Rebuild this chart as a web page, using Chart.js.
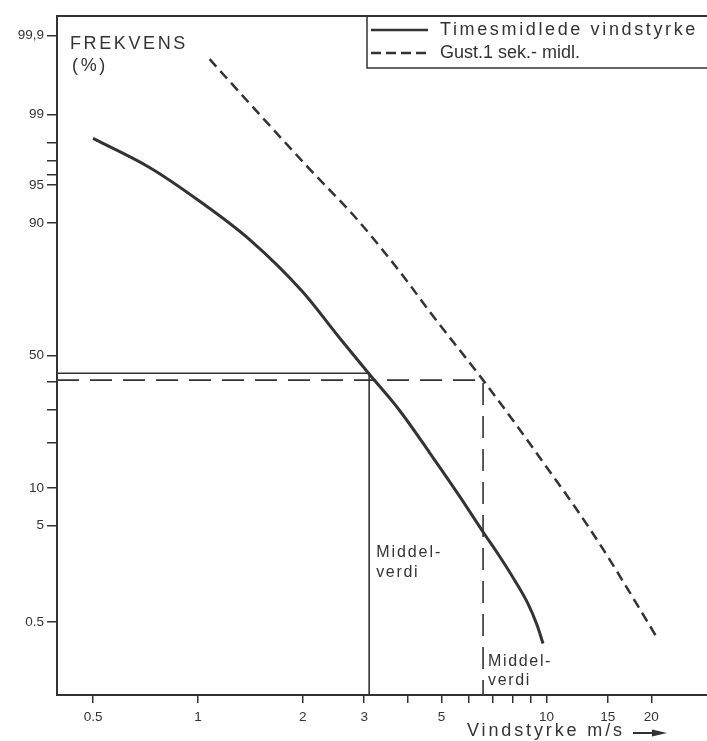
<!DOCTYPE html>
<html>
<head>
<meta charset="utf-8">
<script src="https://cdn.jsdelivr.net/npm/chart.js@4"></script>
<style>
  html, body { margin: 0; padding: 0; background: #fff; }
</style>
</head>
<body>
<canvas id="vindChart" width="707" height="741"></canvas>
<script>
// Vindstyrke (m/s) mot frekvens (%) på sannsynlighetspapir
const hourlySpeed = [0.5, 0.73, 1.0, 1.41, 2.0, 2.55, 3.1, 3.8, 4.63, 5.65, 6.58, 7.36, 8.13, 8.86, 9.4, 9.78];
const hourlyFreq  = [98.2, 96.5, 93.35, 86.8, 73.0, 56.7, 42.9, 29.6, 17.3, 8.6, 4.41, 2.58, 1.47, 0.82, 0.46, 0.27];

const gustSpeed = [1.08, 1.48, 2.06, 2.86, 3.88, 4.63, 6.58, 8.24, 10.04, 12.08, 14.54, 17.38, 20.77];
const gustFreq  = [99.79, 99.07, 96.6, 90.6, 77.9, 66.3, 40.6, 24.8, 13.9, 7.16, 3.07, 1.09, 0.32];

// middelverdier: [vindstyrke, frekvens]
const hourlyMean = [3.1, 43.2];
const gustMean = [6.58, 40.6];

const xTickValues = [0.5, 1, 2, 3, 4, 5, 6, 7, 8, 9, 10, 15, 20];
const xTickLabels = ['0.5', '1', '2', '3', '', '5', '', '', '', '', '10', '15', '20'];
const yTickFreq   = [0.5, 5, 10, 20, 30, 40, 50, 90, 95, 96, 97, 98, 99, 99.9];
const yTickLabels = ['0.5', '5', '10', '', '', '', '50', '90', '95', '', '', '', '99', '99,9'];

const ink = '#333333';
const X_MIN = 0.394, X_MAX = 28.9;
const Z_MIN = -3.28, Z_MAX = 3.28;

// invers normalfordeling (Acklam)
function probit(p) {
  const a = [-3.969683028665376e+01, 2.209460984245205e+02, -2.759285104469687e+02, 1.383577518672690e+02, -3.066479806614716e+01, 2.506628277459239e+00];
  const b = [-5.447609879822406e+01, 1.615858368580409e+02, -1.556989798598866e+02, 6.680131188771972e+01, -1.328068155288572e+01];
  const c = [-7.784894002430293e-03, -3.223964580411365e-01, -2.400758277161838e+00, -2.549732539343734e+00, 4.374664141464968e+00, 2.938163982698783e+00];
  const d = [7.784695709041462e-03, 3.224671290700398e-01, 2.445134137142996e+00, 3.754408661907416e+00];
  const pl = 0.02425;
  let q, r;
  if (p < pl) {
    q = Math.sqrt(-2 * Math.log(p));
    return (((((c[0]*q+c[1])*q+c[2])*q+c[3])*q+c[4])*q+c[5]) / ((((d[0]*q+d[1])*q+d[2])*q+d[3])*q+1);
  }
  if (p > 1 - pl) {
    q = Math.sqrt(-2 * Math.log(1 - p));
    return -(((((c[0]*q+c[1])*q+c[2])*q+c[3])*q+c[4])*q+c[5]) / ((((d[0]*q+d[1])*q+d[2])*q+d[3])*q+1);
  }
  q = p - 0.5; r = q * q;
  return (((((a[0]*r+a[1])*r+a[2])*r+a[3])*r+a[4])*r+a[5])*q / (((((b[0]*r+b[1])*r+b[2])*r+b[3])*r+b[4])*r+1);
}
const z = pct => probit(pct / 100);

const toPoints = (xs, ys) => xs.map((x, i) => ({ x: x, y: z(ys[i]) }));
const meanPath = m => [
  { x: X_MIN, y: z(m[1]) },
  { x: m[0], y: z(m[1]) },
  { x: m[0], y: Z_MIN }
];

const tickFont = { family: 'Liberation Sans', size: 13.5 };

// skriv tekst med sperring; width = ønsket bredde, eller null for vanlig
function spacedText(ctx, text, x, y, width) {
  if ('letterSpacing' in ctx) {
    ctx.letterSpacing = '0px';
    if (width) {
      const w = ctx.measureText(text).width;
      ctx.letterSpacing = ((width - w) / text.length) + 'px';
    }
  }
  ctx.fillText(text, x, y);
}

// tekst, ramme og forklaring
const annotations = {
  id: 'annotations',
  afterDraw(chart) {
    const ctx = chart.ctx;
    const area = chart.chartArea;
    const xs = chart.scales.x;
    ctx.save();
    ctx.strokeStyle = ink;
    ctx.fillStyle = ink;

    // toppramme
    ctx.lineWidth = 2;
    ctx.beginPath();
    ctx.moveTo(area.left, area.top);
    ctx.lineTo(area.right, area.top);
    ctx.stroke();

    ctx.textBaseline = 'middle';
    ctx.textAlign = 'left';
    ctx.font = '18px "Liberation Sans"';
    spacedText(ctx, 'FREKVENS', 70, 44, 118);
    spacedText(ctx, '(%)', 72, 66, 36);

    // forklaring
    ctx.lineWidth = 1.5;
    ctx.strokeRect(367, area.top, area.right - 367 + 2, 52);
    ctx.lineWidth = 2.5;
    ctx.beginPath();
    ctx.moveTo(371, 30); ctx.lineTo(428, 30);
    ctx.stroke();
    ctx.setLineDash([10, 5]);
    ctx.beginPath();
    ctx.moveTo(371, 53); ctx.lineTo(428, 53);
    ctx.stroke();
    ctx.setLineDash([]);
    ctx.font = '18px "Liberation Sans"';
    spacedText(ctx, 'Timesmidlede vindstyrke', 440, 30, 258);
    spacedText(ctx, 'Gust.1 sek.- midl.', 440, 53, null);

    // middelverdi-merker
    ctx.font = '16px "Liberation Sans"';
    const hx = xs.getPixelForValue(hourlyMean[0]) + 7;
    spacedText(ctx, 'Middel-', hx, 553, 66);
    spacedText(ctx, 'verdi', hx, 573, 43);
    const gx = xs.getPixelForValue(gustMean[0]) + 5;
    spacedText(ctx, 'Middel-', gx, 662, 64);
    spacedText(ctx, 'verdi', gx, 681, 43);

    // aksetittel med pil
    ctx.font = '18px "Liberation Sans"';
    spacedText(ctx, 'Vindstyrke m/s', 467, 731, 158);
    ctx.lineWidth = 2;
    ctx.beginPath();
    ctx.moveTo(633, 733); ctx.lineTo(658, 733);
    ctx.stroke();
    ctx.beginPath();
    ctx.moveTo(667, 733); ctx.lineTo(652, 729.5); ctx.lineTo(652, 736.5);
    ctx.closePath();
    ctx.fill();
    ctx.restore();
  }
};

const ctx = document.getElementById('vindChart').getContext('2d');
const vindChart = new Chart(ctx, {
  type: 'line',
  data: {
    datasets: [
      {
        label: 'Timesmidlede vindstyrke',
        data: toPoints(hourlySpeed, hourlyFreq),
        borderColor: ink,
        borderWidth: 3,
        cubicInterpolationMode: 'monotone',
        pointRadius: 0,
        fill: false
      },
      {
        label: 'Gust.1 sek.- midl.',
        data: toPoints(gustSpeed, gustFreq),
        borderColor: ink,
        borderWidth: 2.5,
        borderDash: [10, 6],
        cubicInterpolationMode: 'monotone',
        pointRadius: 0,
        fill: false
      },
      {
        label: 'Middelverdi time',
        data: meanPath(hourlyMean),
        borderColor: ink,
        borderWidth: 1.6,
        tension: 0,
        pointRadius: 0,
        fill: false
      },
      {
        label: 'Middelverdi gust',
        data: meanPath(gustMean),
        borderColor: ink,
        borderWidth: 1.6,
        borderDash: [22, 11],
        tension: 0,
        pointRadius: 0,
        fill: false
      }
    ]
  },
  options: {
    responsive: false,
    animation: false,
    layout: { padding: { top: 16, right: 0, left: 0, bottom: 0 } },
    plugins: {
      legend: { display: false },
      tooltip: { enabled: false }
    },
    scales: {
      x: {
        type: 'logarithmic',
        min: X_MIN,
        max: X_MAX,
        afterBuildTicks: s => { s.ticks = xTickValues.map(v => ({ value: v })); },
        afterFit: s => { s.height = 46; },
        ticks: {
          autoSkip: false,
          maxRotation: 0,
          padding: 6,
          color: ink,
          font: tickFont,
          callback: (v, i) => xTickLabels[i]
        },
        grid: { drawOnChartArea: false, drawTicks: true, tickLength: 8, color: ink, lineWidth: 1.5 },
        border: { color: ink, width: 2 }
      },
      y: {
        type: 'linear',
        min: Z_MIN,
        max: Z_MAX,
        afterBuildTicks: s => { s.ticks = yTickFreq.map(p => ({ value: z(p) })); },
        afterFit: s => { s.width = 57; },
        ticks: {
          autoSkip: false,
          padding: 3,
          color: ink,
          font: tickFont,
          callback: (v, i) => yTickLabels[i]
        },
        grid: { drawOnChartArea: false, drawTicks: true, tickLength: 10, color: ink, lineWidth: 1.5 },
        border: { color: ink, width: 2 }
      }
    }
  },
  plugins: [annotations]
});
</script>
</body>
</html>
